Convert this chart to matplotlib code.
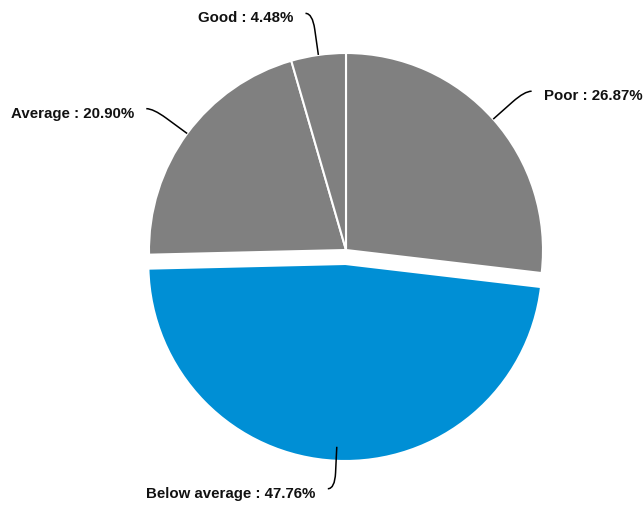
import numpy as np
import matplotlib.pyplot as plt
from matplotlib.path import Path
from matplotlib.patches import PathPatch

plt.rcParams['font.family'] = ['Liberation Sans', 'DejaVu Sans']

labels = ['Poor', 'Below average', 'Average', 'Good']
values = [26.87, 47.76, 20.90, 4.48]
colors = ['#808080', '#008FD5', '#808080', '#808080']
explode = [0, 14, 0, 0]  # pie() takes this in data units here

W, H = 643, 505
fig = plt.figure(figsize=(W / 100, H / 100), dpi=100)
ax = fig.add_axes([0, 0, 1, 1])

cx, cy, R = 346, 255, 197
wedges, _ = ax.pie(values, colors=colors, startangle=90, counterclock=False,
                   center=(cx, cy), radius=R, explode=explode,
                   wedgeprops=dict(edgecolor='white', linewidth=1.5))
ax.set_xlim(0, W)
ax.set_ylim(0, H)
ax.set_aspect('equal')
ax.axis('off')

# leader lines like highcharts (from the un-exploded edge)
for w, lab, v in zip(wedges, labels, values):
    a = np.deg2rad((w.theta1 + w.theta2) / 2)
    d = np.array([np.cos(a), np.sin(a)])
    c = np.array([cx, cy])
    edge = c + R * d
    bend = c + (R + 42) * d
    side = 1 if d[0] > 0 else -1
    end = bend + np.array([side * 7, 0])
    mid = c + (R + 26) * d
    path = Path([edge, mid, bend, end],
                [Path.MOVETO, Path.LINETO, Path.CURVE3, Path.CURVE3])
    ax.add_patch(PathPatch(path, fill=False, edgecolor='black', lw=1.1))
    ax.text(end[0] + side * 12, end[1] - 5, f'{lab} : {v:.2f}%',
            ha='left' if side > 0 else 'right', va='center',
            fontsize=10.8, fontweight='bold', color='#111111')

fig.savefig('out.png', dpi=100)
